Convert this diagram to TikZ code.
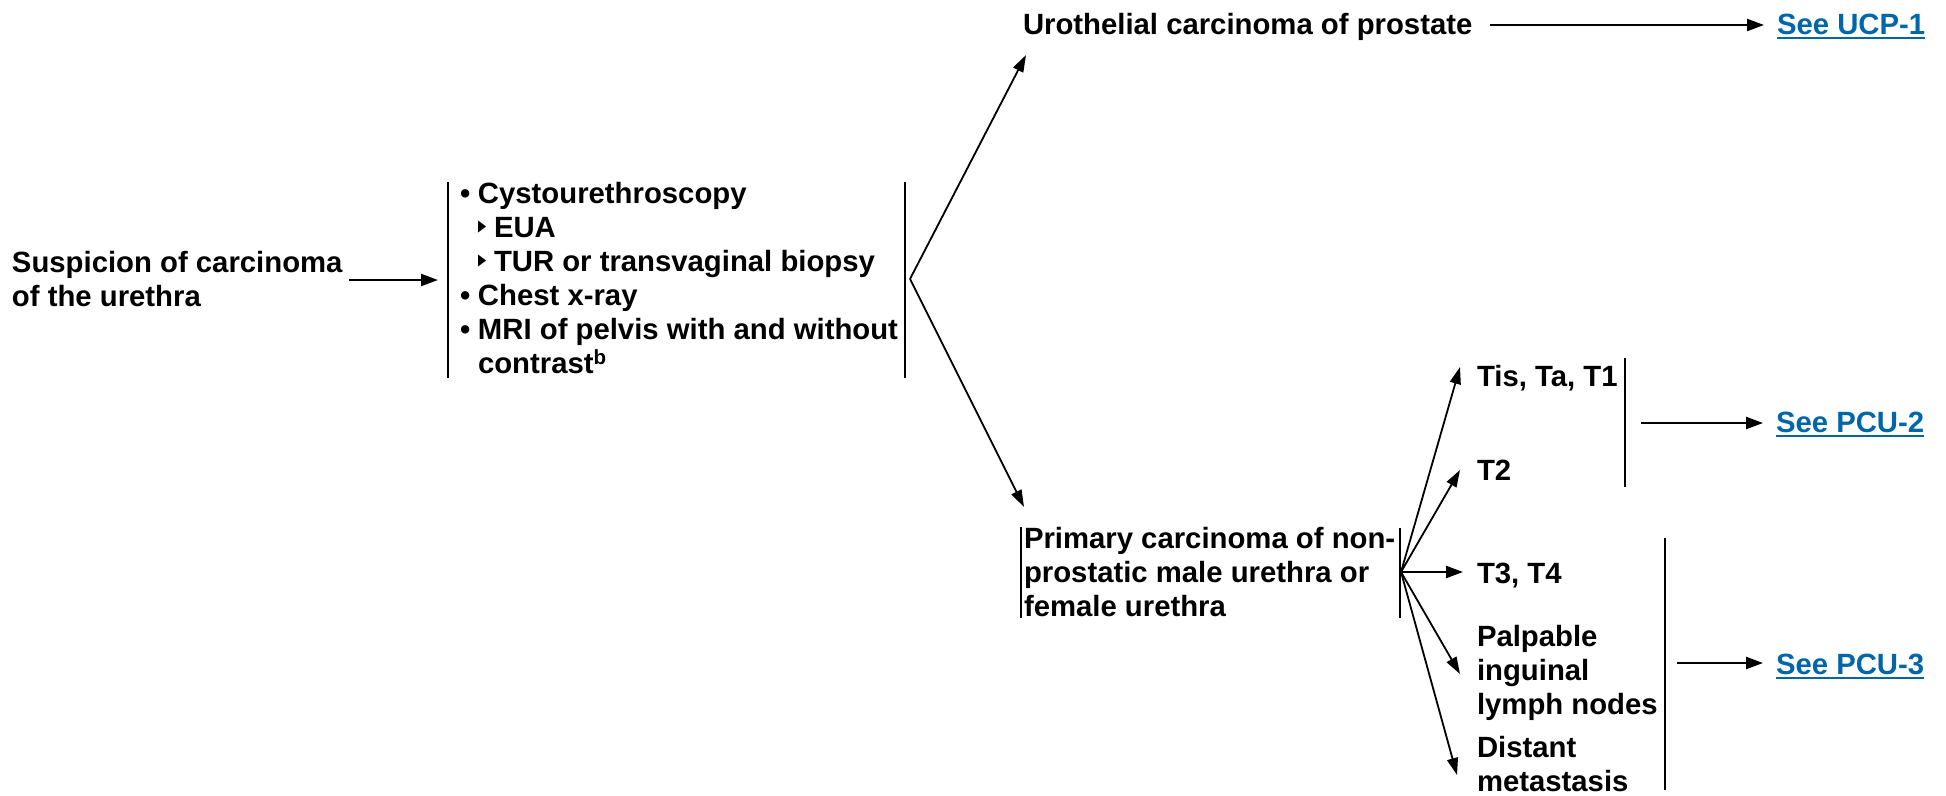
\documentclass[tikz,border=0pt]{standalone}
\usepackage{fontspec}
\setmainfont{Liberation Sans}
\usetikzlibrary{arrows.meta}
\definecolor{linkblue}{RGB}{0,102,170}
\newcommand\ulink[1]{\setbox0\hbox{#1}\rlap{\rule[-4.5pt]{\wd0}{2pt}}\box0}
\newcommand\rows[1]{\begin{tabular}[t]{@{}l@{}}#1\end{tabular}}
\newcommand\bul{\makebox[18pt][l]{•}}
\begin{document}
\begin{tikzpicture}[x=1pt,y=-1pt,
  font=\fontsize{29.3}{34}\selectfont\bfseries,
  txt/.style={anchor=base west,inner sep=0pt,outer sep=0pt},
  link/.style={txt,text=linkblue},
  arr/.style={line width=2.2pt,-{Triangle[length=17pt,width=12pt]}},
  diag/.style={line width=1.8pt,-{Triangle[length=17pt,width=11pt]}},
  bar/.style={line width=2pt},
  tri/.style={fill=black}]
\useasboundingbox (0,0) rectangle (1946,795);

% text nodes
\node[txt] (susp) at (12,272) {\rows{Suspicion of carcinoma\\of the urethra}};
\node[txt] (work) at (460,203) {\rows{\bul Cystourethroscopy\\
\hspace*{34pt}EUA\\
\hspace*{34pt}TUR or transvaginal biopsy\\
\bul Chest x-ray\\
\bul MRI of pelvis with and without\\
\hspace*{18pt}contrast\textsuperscript{b}}};
\node[txt] (uro) at (1023,34) {Urothelial carcinoma of prostate};
\node[link] (ucp) at (1777,34) {\ulink{See UCP-1}};
\node[txt] (prim) at (1024,548) {\rows{Primary carcinoma of non-\\prostatic male urethra or\\female urethra}};
\node[txt] (tis) at (1477,386) {Tis, Ta, T1};
\node[txt] (t2) at (1477,480) {T2};
\node[txt] (t3) at (1477,583) {T3, T4};
\node[txt] (palp) at (1477,646) {\rows{Palpable\\inguinal\\lymph nodes}};
\node[anchor=south west,inner sep=0pt,outer sep=0pt,align=left] (dist) at (1477,792) {Distant\\metastasis};
\node[link] (pcu2) at (1776,432) {\ulink{See PCU-2}};
\node[link] (pcu3) at (1776,674) {\ulink{See PCU-3}};

% sub-bullet triangles
\fill[tri] (478,220.5) -- (478,232.5) -- (486,226.5) -- cycle;
\fill[tri] (478,254.5) -- (478,266.5) -- (486,260.5) -- cycle;

% bars
\draw[bar] (448,182) -- (448,378);
\draw[bar] (905,182) -- (905,378);
\draw[bar] (1021,527) -- (1021,618);
\draw[bar] (1400,528) -- (1400,618);
\draw[bar] (1625,358) -- (1625,487);
\draw[bar] (1665,538) -- (1665,790);

% junction coordinates
\coordinate (suspout) at (349,280);
\coordinate (workin) at (438,280);
\coordinate (fork) at (910,279);
\coordinate (urotip) at (1026,55);
\coordinate (primtip) at (1024,507);
\coordinate (urout) at (1490,25);
\coordinate (ucpin) at (1764,25);
\coordinate (fan) at (1401,572);
\coordinate (tistip) at (1460,367);
\coordinate (t2tip) at (1460,470);
\coordinate (t3tip) at (1463,572);
\coordinate (palptip) at (1460,674);
\coordinate (disttip) at (1457,775);
\coordinate (b2out) at (1641,423);
\coordinate (pcu2in) at (1763,423);
\coordinate (b3out) at (1677,663);
\coordinate (pcu3in) at (1763,663);

% connectors
\draw[arr] (suspout) -- (workin);
\draw[diag] (fork) -- (urotip);
\draw[diag] (fork) -- (primtip);
\draw[arr] (urout) -- (ucpin);
\draw[diag] (fan) -- (tistip);
\draw[diag] (fan) -- (t2tip);
\draw[arr] (fan) -- (t3tip);
\draw[diag] (fan) -- (palptip);
\draw[diag] (fan) -- (disttip);
\draw[arr] (b2out) -- (pcu2in);
\draw[arr] (b3out) -- (pcu3in);
\end{tikzpicture}
\end{document}
